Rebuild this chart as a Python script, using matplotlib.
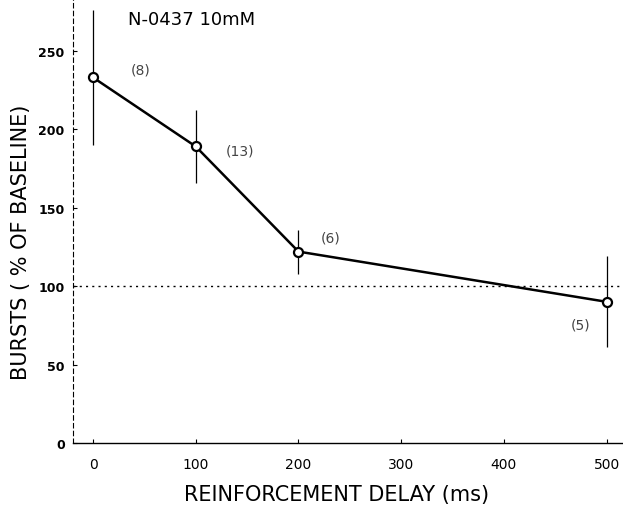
import matplotlib
matplotlib.use("Agg")
import matplotlib.pyplot as plt

delay = [0, 100, 200, 500]
bursts = [233, 189, 122, 90]
err = [43, 23, 14, 29]
n_labels = ["(8)", "(13)", "(6)", "(5)"]
xticks = [0, 100, 200, 300, 400, 500]
yticks = [0, 50, 100, 150, 200, 250]

fig = plt.figure(figsize=(6.23, 5.10), dpi=100)
ax = fig.add_axes([73/623, 66/510, 550/623, 444/510])
ax.set_xlim(-19.5, 516)
ax.set_ylim(0, 283)

ax.axhline(100, color="black", lw=1, ls=(0, (1.5, 3)))
ax.errorbar(delay, bursts, yerr=err, fmt="none", ecolor="black", elinewidth=0.9, capsize=0)
ax.plot(delay, bursts, color="black", lw=1.8, marker="o", ms=6.5,
        mfc="white", mec="black", mew=1.6, zorder=5)

offsets = [(34, 6), (32, -3), (23, 10), (-19, -16)]
for x, y, lab, (dx, dy) in zip(delay, bursts, n_labels, offsets):
    ax.annotate(lab, (x, y), xytext=(dx, dy), textcoords="offset points",
                fontsize=10, color="#444444", ha="center", va="center")

ax.text(34, 270, "N-0437 10mM", fontsize=13, ha="left", va="center")

for s in ["top", "right"]:
    ax.spines[s].set_visible(False)
ax.spines["left"].set_linestyle((0, (4, 3)))
ax.spines["left"].set_linewidth(0.8)
ax.spines["bottom"].set_linewidth(1.0)

ax.set_xticks(xticks)
ax.set_yticks(yticks)
ax.tick_params(axis="x", direction="in", length=3, labelsize=10, pad=10)
ax.tick_params(axis="y", direction="in", length=3, labelsize=9, pad=6)
for t in ax.get_yticklabels():
    t.set_fontweight("bold")

ax.set_xlabel("REINFORCEMENT DELAY (ms)", fontsize=15, va="center")
ax.xaxis.set_label_coords((337 - 73) / 550, -51 / 444)
ax.set_ylabel("BURSTS ( % OF BASELINE)", fontsize=15, va="center")
ax.yaxis.set_label_coords((21 - 73) / 550, (444 - 242) / 444)

fig.savefig("out.png", dpi=100)
